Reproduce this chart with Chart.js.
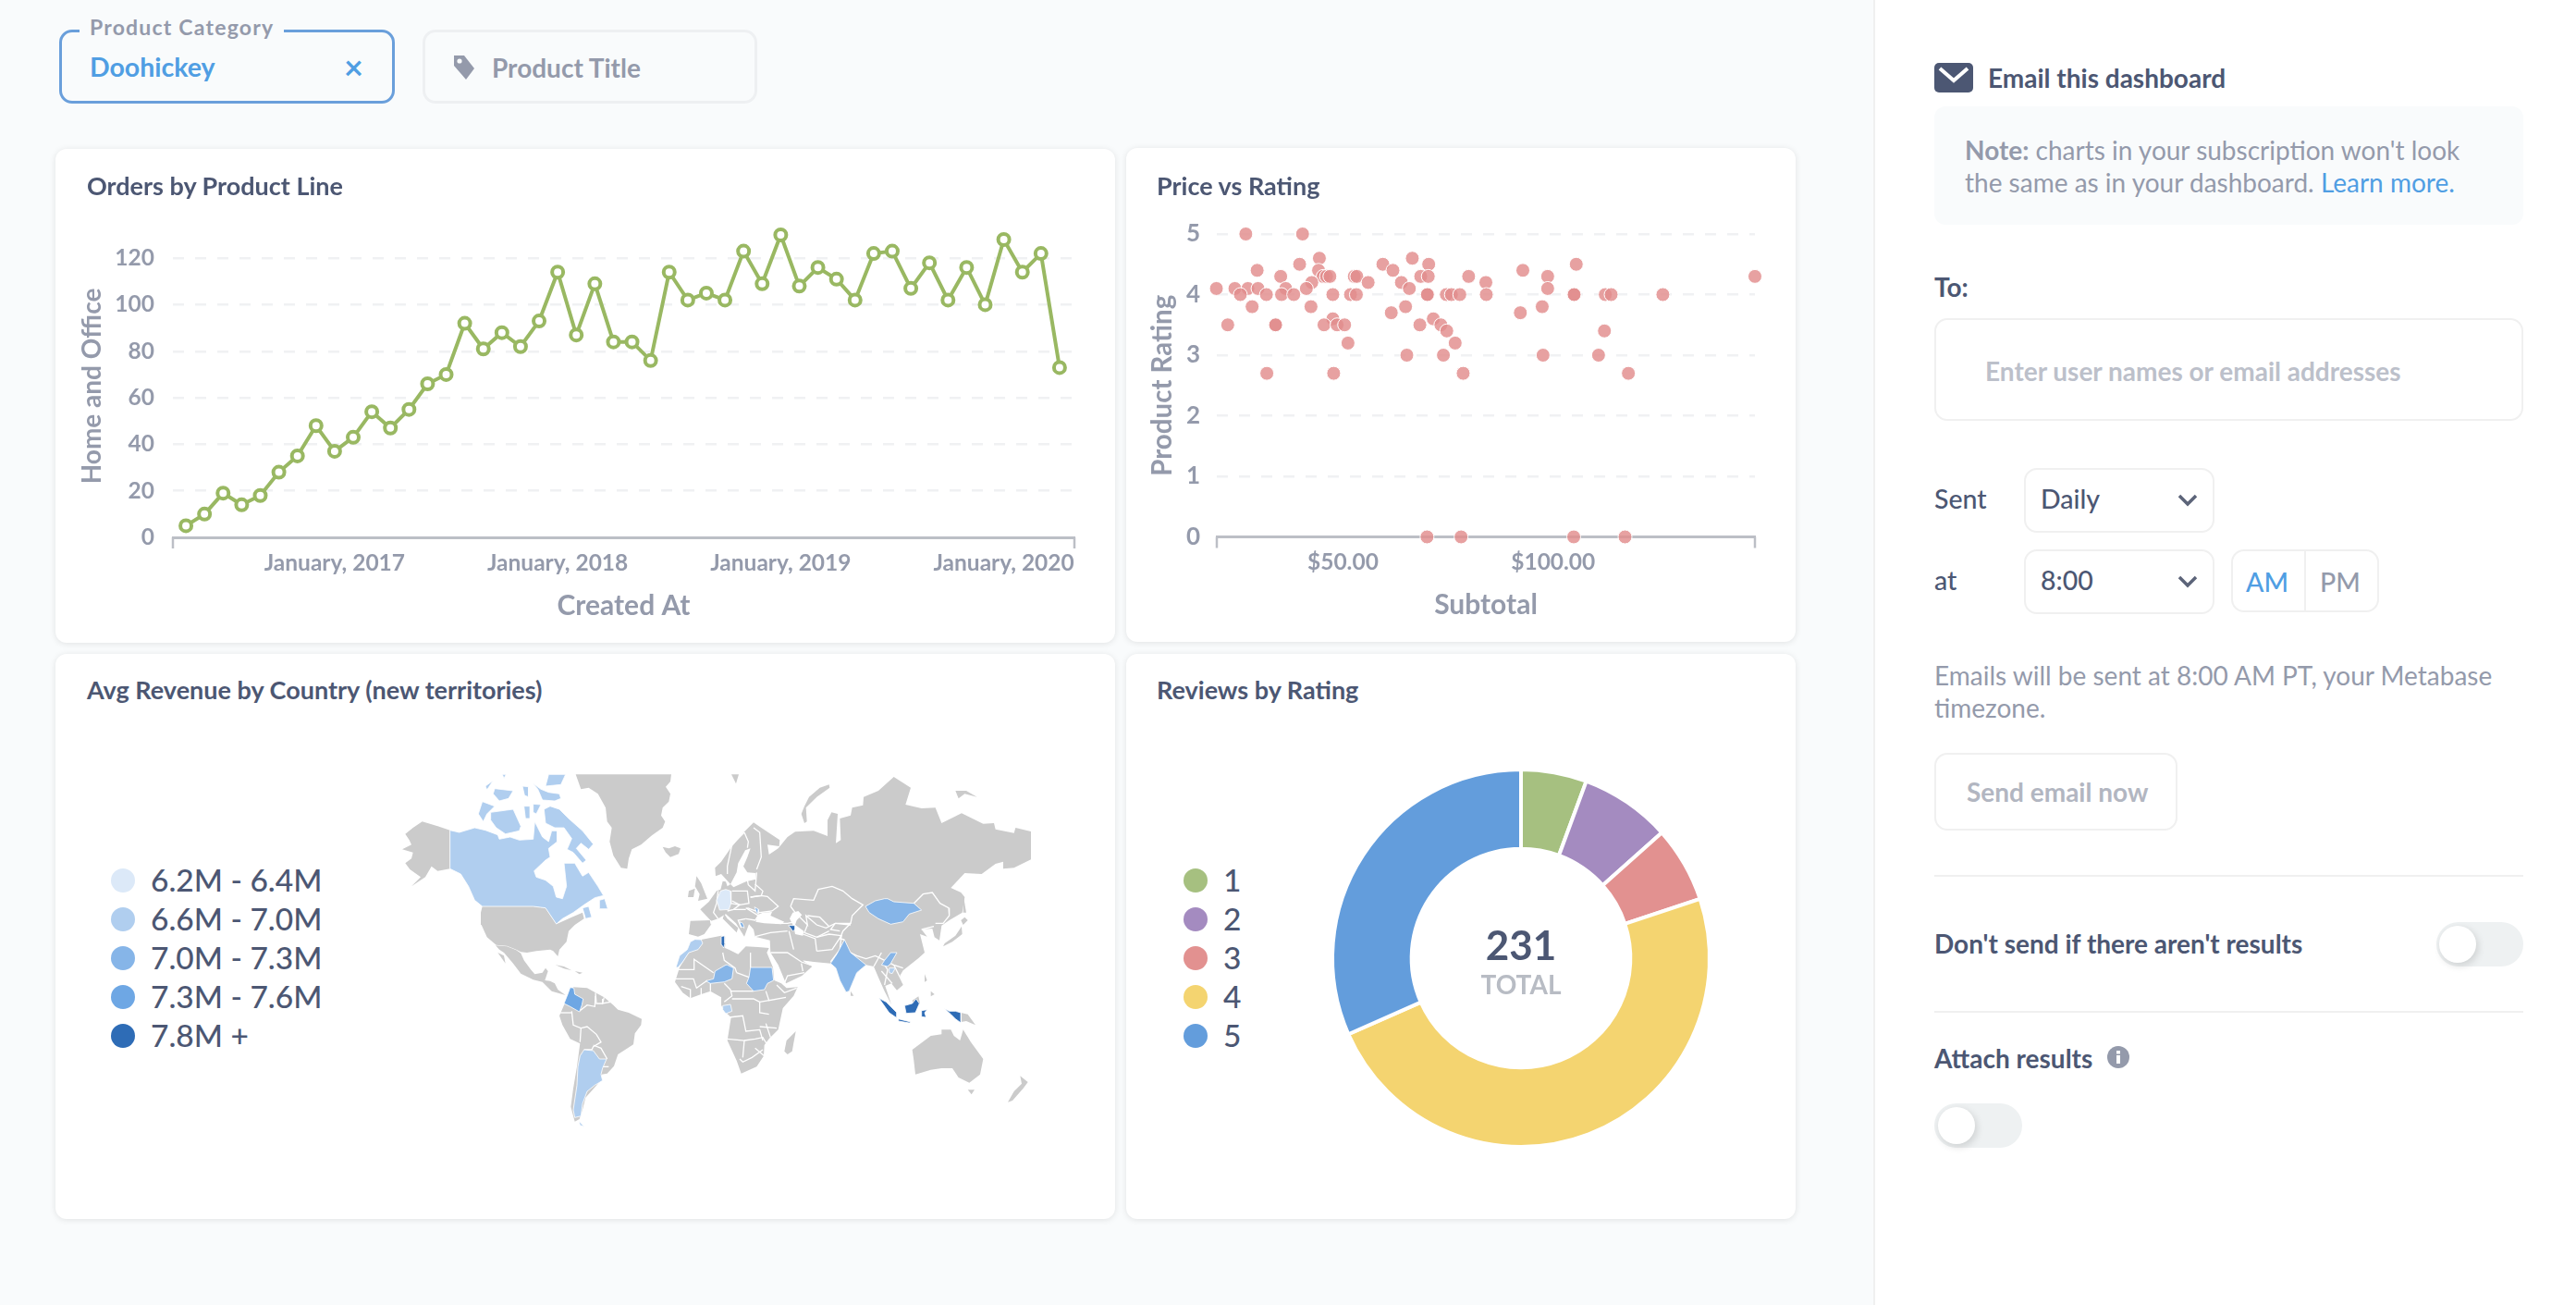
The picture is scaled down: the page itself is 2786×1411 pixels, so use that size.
<!DOCTYPE html>
<html><head><meta charset="utf-8">
<script src="https://cdn.jsdelivr.net/npm/chart.js@4/dist/chart.umd.js"></script>
<style>
html,body{margin:0;padding:0;width:2786px;height:1411px;overflow:hidden;background:#f9fbfc;font-family:Lato,sans-serif;}
.a{position:absolute;box-sizing:border-box}
.t{position:absolute;white-space:nowrap;line-height:1;transform:translateY(calc(-50% - 1.5px))}
.t.l{transform:translateY(-50%)}
.card{position:absolute;box-sizing:border-box;background:#fff;border-radius:12px;box-shadow:0 1px 7px rgba(0,0,0,.10)}
.ct{position:absolute;white-space:nowrap;line-height:1;transform:translateY(calc(-50% - 1.5px));font-size:27px;font-weight:700;color:#4c5773}
.b{font-weight:700}.dark{color:#4c5773}.grey{color:#949aab}
.sel{position:absolute;box-sizing:border-box;background:#fff;border:2.5px solid #f0f0f0;border-radius:14px}
canvas{position:absolute;display:block}
.dot{position:absolute;width:26px;height:26px;border-radius:50%;transform:translateY(-50%)}
.toggle{position:absolute;box-sizing:border-box;background:#eef1f2;border-radius:24px}
.knob{position:absolute;background:#fff;border-radius:50%;width:40px;height:40px;top:4px;box-shadow:2px 3px 8px rgba(0,0,0,.14)}
</style></head><body>

<div class="a" style="left:64px;top:32px;width:363px;height:80px;border:3.5px solid #6a9fdb;border-radius:14px"></div>
<div class="t" style="left:86px;top:31px;padding:0 11px;background:#f9fbfc;font-size:23px;font-weight:700;letter-spacing:1.2px;color:#949aab">Product Category</div>
<div class="t b" style="left:97px;top:74px;font-size:28.5px;color:#509ee3">Doohickey</div>
<div class="t b" style="left:372px;top:73px;font-size:36px;color:#509ee3">×</div>
<div class="a" style="left:457px;top:32px;width:362px;height:80px;border:3.5px solid #eef0f2;border-radius:14px"></div>
<svg class="a" style="left:488px;top:58px" width="28" height="30" viewBox="0 0 28 30"><path d="M3 2h11l11 14-9 12L3 13z" fill="#949aab"/><circle cx="9" cy="8" r="2.6" fill="#f9fbfc"/></svg>
<div class="t b" style="left:532px;top:74px;font-size:28px;color:#949aab">Product Title</div>

<div class="card" style="left:60px;top:161px;width:1146px;height:534px"><canvas id="lineChart" width="1146" height="534" style="left:0;top:0"></canvas></div>
<div class="ct" style="left:94px;top:202px">Orders by Product Line</div>
<div class="card" style="left:1218px;top:160px;width:724px;height:534px"><canvas id="scatterChart" width="724" height="534" style="left:0;top:0"></canvas></div>
<div class="ct" style="left:1251px;top:202px">Price vs Rating</div>
<div class="card" style="left:60px;top:707px;width:1146px;height:611px"></div>
<div class="ct" style="left:94px;top:747px">Avg Revenue by Country (new territories)</div>
<canvas id="mapChart" width="710" height="400" style="left:430px;top:830px"></canvas>
<div id="mapLegend"></div>
<div class="card" style="left:1218px;top:707px;width:724px;height:611px"></div>
<div class="ct" style="left:1251px;top:747px">Reviews by Rating</div>
<canvas id="donutChart" width="420" height="420" style="left:1435px;top:826px"></canvas>
<div id="donutLegend"></div>
<div class="t b dark" id="donutTotal" style="left:1645px;top:1021px;font-size:44px;transform:translate(-50%,-50%)"></div>
<div class="t b" style="left:1645px;top:1064px;font-size:28px;color:#b8bcc4;transform:translate(-50%,-50%)">TOTAL</div>

<div class="a" style="left:2026px;top:0;width:760px;height:1411px;background:#fff;border-left:2px solid #f0f0f0"></div>
<svg class="a" style="left:2092px;top:68px" width="42" height="32" viewBox="0 0 42 32"><rect width="42" height="32" rx="5" fill="#4c5773"/><path d="M6 6l15 13L36 6" fill="none" stroke="#fff" stroke-width="4"/></svg>
<div class="t b dark" style="left:2150px;top:85px;font-size:28px">Email this dashboard</div>
<div class="a" style="left:2092px;top:115px;width:637px;height:128px;background:#f9fbfc;border-radius:12px"></div>
<div class="t grey" style="left:2125px;top:163px;font-size:28px"><span class="b">Note:</span> charts in your subscription won't look</div>
<div class="t grey" style="left:2125px;top:198px;font-size:28px">the same as in your dashboard. <span style="color:#509ee3">Learn more.</span></div>
<div class="t b dark" style="left:2092px;top:311px;font-size:28px">To:</div>
<div class="sel" style="left:2092px;top:344px;width:637px;height:111px"></div>
<div class="t b" style="left:2147px;top:402px;font-size:28px;color:#bcc0ca">Enter user names or email addresses</div>
<div class="t dark" style="left:2092px;top:541px;font-size:28.5px;font-weight:500">Sent</div>
<div class="sel" style="left:2189px;top:506px;width:206px;height:70px"></div>
<div class="t dark" style="left:2207px;top:541px;font-size:28.5px;font-weight:500">Daily</div>
<svg class="a" style="left:2354px;top:533px" width="24" height="16"><path d="M3 3l9 9 9-9" fill="none" stroke="#5c6479" stroke-width="3.5"/></svg>
<div class="t dark" style="left:2092px;top:629px;font-size:28.5px;font-weight:500">at</div>
<div class="sel" style="left:2189px;top:594px;width:206px;height:70px"></div>
<div class="t dark" style="left:2207px;top:629px;font-size:28.5px;font-weight:500">8:00</div>
<svg class="a" style="left:2354px;top:621px" width="24" height="16"><path d="M3 3l9 9 9-9" fill="none" stroke="#5c6479" stroke-width="3.5"/></svg>
<div class="sel" style="left:2413px;top:594px;width:160px;height:68px"></div>
<div class="a" style="left:2492px;top:595px;width:2px;height:66px;background:#f0f0f0"></div>
<div class="t" style="left:2452px;top:629px;font-size:28.5px;font-weight:500;color:#509ee3;transform:translate(-50%,-50%)">AM</div>
<div class="t" style="left:2531px;top:629px;font-size:28.5px;font-weight:500;color:#949aab;transform:translate(-50%,-50%)">PM</div>
<div class="t grey" style="left:2092px;top:731px;font-size:28px">Emails will be sent at 8:00 AM PT, your Metabase</div>
<div class="t grey" style="left:2092px;top:766px;font-size:28px">timezone.</div>
<div class="sel" style="left:2092px;top:814px;width:263px;height:84px"></div>
<div class="t b" style="left:2127px;top:857px;font-size:28px;color:#b2b6c1">Send email now</div>
<div class="a" style="left:2092px;top:946px;width:637px;height:2px;background:#f0f0f0"></div>
<div class="t b dark" style="left:2092px;top:1021px;font-size:28px">Don't send if there aren't results</div>
<div class="toggle" style="left:2635px;top:997px;width:94px;height:48px"><div class="knob" style="left:3px"></div></div>
<div class="a" style="left:2092px;top:1093px;width:637px;height:2px;background:#f0f0f0"></div>
<div class="t b dark" style="left:2092px;top:1145px;font-size:28px">Attach results</div>
<svg class="a" style="left:2279px;top:1131px" width="24" height="24"><circle cx="12" cy="12" r="12" fill="#949aab"/><rect x="10" y="10" width="4" height="9" fill="#fff"/><rect x="10" y="5" width="4" height="3.5" fill="#fff"/></svg>
<div class="toggle" style="left:2092px;top:1193px;width:95px;height:48px"><div class="knob" style="left:4px"></div></div>

<script>
// ---------- Orders by Product Line ----------
const orderCounts = [5,10,19,14,18,28,35,48,37,43,54,47,55,66,70,92,81,88,82,93,114,87,109,84,84,76,114,102,105,102,123,109,130,108,116,111,102,122,123,107,118,102,116,100,128,114,122,73];
const orderXTickAt = [8,20,32,44];
const orderXTickLabels = ['January, 2017','January, 2018','January, 2019','January, 2020'];
const orderYTicks = [0,20,40,60,80,100,120];

// ---------- Price vs Rating ----------
const priceSubtotal = [26.9,40.4,44.4,39.7,59.5,66.5,70.4,105.5,29.6,44.2,61.9,92.8,35.2,45.3,46.1,46.9,52.7,53.3,68.5,70.3,79.9,98.7,148,42.6,56,63.9,84,19.9,24.3,27.4,29.8,36.4,41.3,65.8,98.7,25.6,31.8,35.4,38.3,47.6,51.8,53.2,70,70.1,74.6,75.8,77.8,84.1,104.9,105,112.4,113.8,126.1,28.4,42.4,64.9,97.4,61.5,92.2,47.6,71.5,22.6,33.9,34,45.5,48.6,50.4,68.3,73.3,74.7,112.2,51.2,76.7,65.2,73.9,97.6,110.8,31.9,47.8,78.6,117.9,70,78.1,104.9,117.1];
const priceRating = [5,5,4.6,4.5,4.5,4.6,4.5,4.5,4.4,4.4,4.4,4.4,4.3,4.3,4.3,4.3,4.3,4.3,4.3,4.3,4.3,4.3,4.3,4.2,4.2,4.2,4.2,4.1,4.1,4.1,4.1,4.1,4.1,4.1,4.1,4,4,4,4,4,4,4,4,4,4,4,4,4,4,4,4,4,4,3.8,3.8,3.8,3.8,3.7,3.7,3.6,3.6,3.5,3.5,3.5,3.5,3.5,3.5,3.5,3.5,3.4,3.4,3.2,3.2,3,3,3,3,2.7,2.7,2.7,2.7,0,0,0,0];
const priceXTicks = [50,100];
const ratingYTicks = [0,1,2,3,4,5];

// ---------- Reviews by Rating ----------
const reviewRatings = ['1','2','3','4','5'];
const reviewCounts = [13,18,15,112,73];
const reviewColors = ['#a6c080','#a48bc0','#e29190','#f4d470','#639ddc'];

// ---------- Avg Revenue by Country ----------
const revenueBuckets = ['6.2M - 6.4M','6.6M - 7.0M','7.0M - 7.3M','7.3M - 7.6M','7.8M +'];
const bucketColors = ['#dce9f8','#b0ceef','#86b5e8','#6ea7e4','#2e6cb6'];
const landColor = '#cbcbcb';
// outlines; each is [origin, x,y, x,y, ...] in map units
const NW=[0,0], NE=[1050,0], SW=[270,600], SE=[1050,600];
const landOutlines = [
 [NW,170,203,130,190,80,175,50,195,25,215,38,235,45,250,15,265,50,275,45,295,25,310,40,330,75,355,45,385,90,355,110,320,130,335,170,328],
 [NW,578,22,888,22,885,45,870,62,885,85,880,110,860,130,855,155,868,175,860,195,825,220,790,250,760,265,750,295,745,328,725,325,700,285,688,240,695,195,680,175,675,130,650,85,620,65,595,70],
 [NW,860,257,880,262,900,255,918,262,912,280,885,290,870,275],
 [NW,275,450,440,450,480,455,515,508,565,485,600,470,605,490,575,510,555,530,548,565,525,590,520,612,505,595,495,590,450,595,420,600,400,598,385,590,355,578,320,575,290,550,272,510,270,470],
 [NW,318,577,355,580,385,592,400,602,410,625,432,655,445,670,470,665,480,650,488,660,478,690,495,692,510,700,520,720,545,738,500,725,470,695,440,688,400,668,375,635,345,600,330,590],
 [NW,325,600,350,635,345,610],
 [NW,512,640,540,645,565,658,540,652],
 [NW,575,660,600,665,590,670],
 [SW,300,112,345,115,372,130,400,145,430,170,445,185,480,195,522,215,520,235,500,262,495,298,445,330,432,368,410,392,392,395,385,420,340,470,330,510,320,540,305,548,292,500,300,440,312,370,322,295,290,280,265,235,255,205,270,170,285,145],
 [NW,915,648,945,600,985,558,1050,545,1065,548,1062,585,1075,590,1105,605,1130,580,1170,582,1205,585,1198,600,1218,648,1222,690,1245,700,1262,715,1298,712,1285,740,1250,780,1235,850,1205,880,1190,900,1188,935,1165,970,1115,992,1100,950,1070,885,1082,810,1060,790,1050,770,1050,745,1015,725,985,735,950,748,925,730,900,695],
 [NE,105,178,130,195,190,235,188,255,150,250,155,282,185,262,215,225,240,208,300,205,345,222,345,170,358,145,378,150,372,245,388,235,385,165,420,155,425,130,460,122,462,95,510,75,560,30,615,65,598,120,650,132,695,130,715,180,780,148,850,182,885,180,890,200,950,212,955,195,1005,207,1005,298,950,325,915,328,915,305,890,312,845,345,790,342,745,390,778,405,790,420,782,470,740,495,715,512,708,560,692,550,685,522,650,525,668,548,645,540,660,600,640,618,590,658,580,675,590,705,570,722,552,700,532,708,552,768,530,725,510,680,495,645,470,640,440,665,415,725,405,728,385,690,372,650,355,635,300,630,262,625,240,605,270,630,295,645,262,675,210,700,185,640,160,600,158,560,110,548,105,525,90,508,75,548,48,505,15,475,-10,490,-35,498,-32,508,-55,540,-75,548,-105,540,-100,497,-35,495,-68,460,-40,435,-15,400,-2,395,5,368,15,370,20,385,30,378,0,345,-18,352,-20,325,0,305,30,262,75,208],
 [NE,10,475,20,490,55,520,50,535,35,520,5,490],
 [NW,970,352,985,375,1005,425,975,432,980,410,965,385],
 [NW,945,400,965,392,960,420,942,420],
 [NE,33,22,57,22,48,52],
 [NE,350,55,320,65,285,95,270,125,260,150,270,180,278,175,275,130,310,95,352,65],
 [NE,760,75,795,75,830,95,790,85,770,100],
 [NE,785,410,795,470,785,470],
 [NE,790,485,800,495,785,510,778,495],
 [NE,780,515,782,540,750,565,720,580,725,570,760,545],
 [SE,660,70,668,90,660,95],
 [SE,680,125,692,135,680,142],
 [SE,420,125,430,140,420,140],
 [SE,620,155,640,142,645,165,625,175],
 [SE,242,255,230,320,215,330,205,320,212,285],
 [SE,620,315,680,270,715,265,715,250,745,250,755,270,775,285,785,250,810,290,850,345,840,395,805,422,770,405,750,375,715,375,680,380,630,395,625,350],
 [SE,800,445,822,445,812,460],
 [SE,970,400,995,420,980,440,945,480,930,485,950,450,975,425],
 [SE,778,195,800,200,825,235,795,222,778,225]
];
const waterOutlines = [
 [NE,95,262,78,268,55,310,50,340,30,378,40,388,80,370,112,362,112,342,85,340,72,320,85,290],
 [NE,118,478,135,470,165,468,160,480,205,500,195,508,140,505,112,500],
 [NE,232,470,250,465,262,478,245,495,240,510,268,530,265,545,240,540,235,515,222,490]
];
const borderLines = [
 [NE,105,195,125,210,130,290,115,330],[NE,75,210,35,250,20,320,20,345],[NE,75,210,88,240,85,260],
 [NE,115,340,110,400,88,380,85,365],[NE,110,378,135,400,130,415,95,420],[NE,95,420,130,415,150,418,185,450,165,465,125,470,85,455],
 [NE,35,400,85,400,90,440,60,445,35,432],[NE,30,440,60,445,40,460,20,465],[NE,80,455,120,480,110,495,80,490],[NE,80,490,55,495,65,520],[NE,40,460,80,460],
 [NE,-10,400,-15,440,-25,470,-10,490],[NE,-35,495,-32,508],
 [NE,225,450,235,425,300,430,315,395,360,385,395,400,425,425,460,445,425,480,420,505,370,505,340,520,310,510,275,480,280,510,240,470,225,450],
 [NE,280,480,320,485,350,515],[NE,370,505,355,525,385,530],[NE,280,510,270,535,310,550,350,530],[NE,265,540,305,555,310,595],[NE,310,550,350,540,390,545,360,590,310,595],[NE,390,545,385,590,355,630],
 [NE,625,440,655,410,685,405,710,440,738,455,740,480,720,505,695,505],[NE,650,525,690,515],[NE,370,505,420,510],[NE,420,505,395,530,385,555,400,558],
 [NE,420,600,440,610,470,620,500,610,530,625,560,640,590,650],[NE,495,645,520,600],[NE,530,640,540,655,530,705],[NE,520,660,555,700],[NE,560,640,590,700],
 [NE,175,505,215,505,240,500],[NE,110,548,160,535,215,530],[NE,220,530,235,590],[NE,160,600,215,600,260,630,290,640],[NE,205,700,215,675,270,665],[NE,260,635,265,660],
 [SW,295,190,300,235,325,245,322,290],[SW,325,245,345,240,375,265,390,290,365,305,360,315,335,315],[SW,365,300,390,310,410,345],[SW,320,190,345,170,370,175,372,140],[SW,372,130,375,165,395,165,400,145],[SW,395,150,395,165,420,160,425,150],[SW,392,370,415,370],[SW,258,195,295,195],
 [SW,635,55,690,55,692,22,755,65],[SW,632,85,690,85,700,115,735,90],[SW,650,110,680,120,680,148],[SW,715,115,715,145],[SW,745,100,745,125],[SW,790,100,810,120,815,140,790,160],[SW,785,0,790,25,825,50,830,65],[SW,875,0,875,48],[SW,830,65,870,80],[SW,810,125,862,125,885,125],[SW,815,150,840,150,885,150,905,160],[SW,905,160,905,195,935,200],[SW,925,125,935,155,990,145],[SW,960,105,985,130,1025,115],
 [SW,805,210,850,205,860,255,905,250,915,285],[SW,800,280,855,285,850,340],[SW,855,285,890,280,915,275,930,300],[SW,890,310,920,335],[SW,905,240,960,245],[SW,935,155,905,160],[SW,925,230,940,275],[SW,840,345,850,355,880,340,915,315]
];
// bucket index (0-4) per country outline
const countryOutlines = [
 [1,NW,170,203,200,210,250,195,285,203,325,218,330,232,365,225,395,235,440,232,445,175,470,225,490,240,500,205,518,205,518,240,490,262,495,290,480,300,443,335,450,355,480,365,505,385,515,420,535,425,548,385,540,310,575,310,600,352,620,340,650,385,668,415,640,422,605,445,570,470,535,490,515,507,480,455,440,450,275,450,250,430,230,385,205,345,170,328],
 [1,NW,475,135,495,125,525,135,555,165,600,205,635,248,620,265,595,245,580,262,612,300,600,310,570,275,550,265,565,230,540,195,510,195,480,180],
 [1,NW,302,145,375,135,400,190,395,205,350,215,320,195,302,170],
 [1,NW,275,110,315,125,290,150,278,175,262,150],
 [1,NW,315,68,375,75,360,100,330,108,310,85],
 [1,NW,285,60,310,42,290,72],
 [1,NW,340,22,352,22,345,35],
 [1,NW,490,22,545,22,530,55,480,60],
 [1,NW,405,60,425,62,425,95,412,90],
 [1,NW,438,50,465,70,490,80,525,85,530,100,510,108,470,105,455,70],
 [1,NW,410,125,430,125,430,165,415,165],
 [1,NW,440,118,465,120,450,150,440,145],
 [1,NW,655,430,672,425,682,458,655,458],
 [1,NW,600,455,620,450,630,485,610,490],
 [1,NW,985,558,990,570,975,590,945,600,925,630,910,648,903,648,915,610,940,590,950,565,965,557],
 [1,SW,335,315,365,318,385,345,408,345,395,375,390,395,395,415,370,430,345,450,330,490,325,530,305,535,300,510,312,430,315,370,322,335],
 [1,SW,318,545,335,565,322,560],
 [1,SW,785,172,810,168,815,190,795,198,785,185],
 [1,SE,545,50,565,50,555,68,545,65],
 [0,NW,1048,400,1065,395,1080,400,1082,440,1075,460,1045,462,1035,430],
 [3,SW,290,113,302,115,305,135,332,150,328,170,320,192,290,175,270,165,282,135],
 [2,SW,800,40,820,50,815,85,790,95,745,100,730,92,755,85,760,60,795,40],
 [2,SW,875,48,945,48,950,90,930,100,920,120,885,125,862,100,870,80],
 [2,NE,468,450,500,432,530,425,540,425,560,435,625,440,650,462,610,475,590,500,550,508,510,490,480,470],
 [2,NE,400,558,420,600,470,640,440,665,415,725,405,728,385,690,372,650,355,635,375,605],
 [2,NE,530,625,550,600,570,600,550,635,540,645,520,640],
 [2,NE,108,452,122,460,120,475,115,470],
 [3,NE,60,500,65,515,75,520,70,505],
 [4,NE,218,512,240,512,240,525,232,530,225,520],
 [4,NE,0,548,12,545,12,570,8,585,2,575],
 [4,SE,512,148,535,160,570,195,570,212,545,195],
 [4,SE,575,215,615,225,610,228,575,222],
 [4,SE,595,172,620,165,632,150,643,165,630,195,600,197],
 [4,SE,650,188,668,185,660,195,665,210,650,208],
 [4,SE,725,182,740,190,760,190,778,195,778,228,760,215,745,200]
];

Chart.defaults.animation = false;
Chart.defaults.font.family = 'Lato';
const axisGrey = '#949aab', axisLine = '#bcbfc6', gridGrey = '#f0f1f3';
const fixedSides = (width, height) => ({
  y: s => { s.width = width; }, x: s => { s.height = height; }
});
const axisEnds = {
  id: 'axisEnds',
  beforeDatasetsDraw(chart) {
    const {ctx, chartArea: a} = chart;
    ctx.save(); ctx.strokeStyle = axisLine; ctx.lineWidth = 2.5;
    [a.left, a.right].forEach(x => { ctx.beginPath(); ctx.moveTo(x, a.bottom); ctx.lineTo(x, a.bottom + 12); ctx.stroke(); });
    ctx.restore();
  }
};
function axes(o) {
  const f = fixedSides(o.w, o.h);
  return {
    x: { type:'linear', min:o.xMin, max:o.xMax, afterFit:f.x,
      afterBuildTicks: s => { s.ticks = o.xTicks.map(v => ({value:v})); },
      grid:{display:false, drawTicks:false},
      border:{display:true, color:axisLine, width:3},
      ticks:{ color:axisGrey, autoSkip:false, maxRotation:0, padding:13, font:{size:24.5,weight:'700'}, callback:o.xLabel },
      title:{ display:true, text:o.xTitle, color:axisGrey, font:{size:30,weight:'700'}, padding:{top:0,bottom:22} } },
    y: { type:'linear', min:0, max:o.yMax, afterFit:f.y,
      afterBuildTicks: s => { s.ticks = o.yTicks.map(v => ({value:v})); },
      grid:{ drawTicks:false, color: c => c.tick.value === 0 ? 'transparent' : gridGrey, lineWidth:2.5 },
      border:{display:false, dash:[12,12]},
      ticks:{ color:axisGrey, padding:o.tickPad, font:{size:o.ySize,weight:'700'} },
      title:{ display:true, text:o.yTitle, color:axisGrey, font:{size:o.titleSize,weight:'700'}, padding:{top:o.titlePad,bottom:0} } }
  };
}

new Chart(document.getElementById('lineChart'), {
  type:'line',
  plugins:[axisEnds],
  data:{ datasets:[{ data:orderCounts.map((v,i)=>({x:i,y:v})), borderColor:'#99b862', borderWidth:4, tension:0,
    pointRadius:6, pointBorderWidth:4, pointBackgroundColor:'#fff', pointBorderColor:'#99b862', clip:false }] },
  options:{ responsive:false, layout:{padding:{top:93,right:44,left:0,bottom:0}},
    plugins:{legend:{display:false},tooltip:{enabled:false}},
    scales:axes({w:127,h:114,xMin:-0.7,xMax:47.8,xTicks:orderXTickAt,
      xLabel:v=>orderXTickLabels[orderXTickAt.indexOf(v)],xTitle:'Created At',yMax:130,yTicks:orderYTicks,
      tickPad:20,ySize:24.5,yTitle:'Home and Office',titleSize:28,titlePad:23}) }
});

new Chart(document.getElementById('scatterChart'), {
  type:'scatter',
  plugins:[axisEnds],
  data:{ datasets:[{ data:priceSubtotal.map((x,i)=>({x,y:priceRating[i]})), backgroundColor:'rgba(226,140,140,0.82)', borderColor:'#fff', borderWidth:1, pointRadius:7.5, clip:false }] },
  options:{ responsive:false, layout:{padding:{top:93,right:44,left:0,bottom:0}},
    plugins:{legend:{display:false},tooltip:{enabled:false}},
    scales:axes({w:98,h:113.5,xMin:20,xMax:148,xTicks:priceXTicks,
      xLabel:v=>'$'+v.toFixed(2),xTitle:'Subtotal',yMax:5,yTicks:ratingYTicks,
      tickPad:18,ySize:26,yTitle:'Product Rating',titleSize:29.5,titlePad:22}) }
});

new Chart(document.getElementById('donutChart'), {
  type:'doughnut',
  data:{ labels:reviewRatings, datasets:[{ data:reviewCounts, backgroundColor:reviewColors, borderColor:'#fff', borderWidth:4 }] },
  options:{ responsive:false, cutout:'58%', layout:{padding:4}, plugins:{legend:{display:false},tooltip:{enabled:false}} }
});
document.getElementById('donutTotal').textContent = reviewCounts.reduce((a,b)=>a+b,0);

function poly(s, close) {
  const [o, ...p] = s; const pts = [];
  for (let i=0;i<p.length;i+=2) pts.push({x:p[i]+o[0], y:p[i+1]+o[1]});
  if (close) pts.push(pts[0]);
  return pts;
}
const mapSets = [];
landOutlines.forEach(s => mapSets.push({data:poly(s,true), showLine:true, fill:'shape', backgroundColor:landColor, borderColor:landColor, borderWidth:0, pointRadius:0}));
waterOutlines.forEach(s => mapSets.push({data:poly(s,true), showLine:true, fill:'shape', backgroundColor:'#fff', borderColor:'#fff', borderWidth:0, pointRadius:0}));
borderLines.forEach(s => mapSets.push({data:poly(s,false), showLine:true, fill:false, borderColor:'#fff', borderWidth:1.3, pointRadius:0}));
countryOutlines.forEach(([b,...s]) => mapSets.push({data:poly(s,true), showLine:true, fill:'shape', backgroundColor:bucketColors[b], borderColor:'#fff', borderWidth:0.8, pointRadius:0}));
mapSets.reverse(); // the first dataset is painted last
new Chart(document.getElementById('mapChart'), {
  type:'scatter',
  data:{datasets:mapSets},
  options:{ responsive:false, layout:{padding:0}, plugins:{legend:{display:false},tooltip:{enabled:false}},
    scales:{ x:{type:'linear',display:false,min:0,max:2130}, y:{type:'linear',display:false,min:0,max:1200,reverse:true} } }
});

function legend(id, labels, colors, dotX, textX) {
  const ys = [952,994,1036,1078,1120];
  document.getElementById(id).innerHTML = labels.map((l,i)=>
    `<div class="dot" style="left:${dotX}px;top:${ys[i]}px;background:${colors[i]}"></div>`+
    `<div class="t l dark" style="left:${textX}px;top:${ys[i]}px;font-size:33.5px;font-weight:500">${l}</div>`).join('');
}
legend('mapLegend', revenueBuckets, bucketColors, 120, 163);
legend('donutLegend', reviewRatings, reviewColors, 1280, 1323);
</script>
</body></html>
